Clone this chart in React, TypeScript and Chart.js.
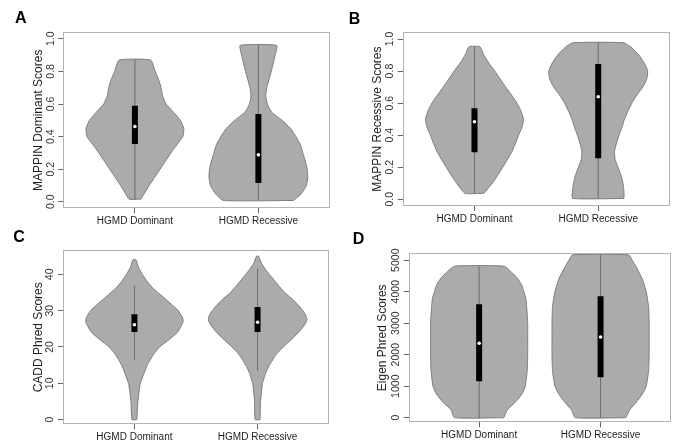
import React, { useEffect, useRef } from 'react';
import { Chart, registerables } from 'chart.js';

Chart.register(...registerables);

const FONT = '"Liberation Sans", Arial, Helvetica, sans-serif';

const categories = ['HGMD Dominant', 'HGMD Recessive'];
const categoryPositions = [1, 2];

// ---------- Panel A : MAPPIN Dominant Scores ----------
const aTicks = [0, 0.2, 0.4, 0.6, 0.8, 1.0];
const aDomLevels = [0.016, 0.05, 0.1, 0.15, 0.2, 0.25, 0.3, 0.35, 0.4, 0.45, 0.5, 0.55, 0.6, 0.65, 0.7, 0.75, 0.8, 0.87];
const aDomDensity = [0.12, 0.19, 0.29, 0.4, 0.51, 0.62, 0.73, 0.85, 0.97, 0.99, 0.92, 0.78, 0.63, 0.56, 0.53, 0.48, 0.41, 0.32];
const aDomBox = [0.355, 0.462, 0.59];
const aDomWhisker = [0.016, 0.87];
const aRecLevels = [0.008, 0.05, 0.1, 0.15, 0.2, 0.25, 0.3, 0.35, 0.4, 0.45, 0.5, 0.55, 0.6, 0.65, 0.7, 0.8, 0.9, 0.96];
const aRecDensity = [0.71, 0.87, 0.97, 1.0, 0.99, 0.95, 0.9, 0.85, 0.76, 0.65, 0.48, 0.27, 0.18, 0.15, 0.17, 0.26, 0.34, 0.37];
const aRecBox = [0.115, 0.288, 0.538];
const aRecWhisker = [0.008, 0.96];

// ---------- Panel B : MAPPIN Recessive Scores ----------
const bTicks = [0, 0.2, 0.4, 0.6, 0.8, 1.0];
const bDomLevels = [0.037, 0.1, 0.15, 0.2, 0.25, 0.3, 0.35, 0.4, 0.45, 0.5, 0.55, 0.6, 0.65, 0.7, 0.75, 0.8, 0.85, 0.9, 0.952];
const bDomDensity = [0.19, 0.36, 0.47, 0.57, 0.67, 0.76, 0.83, 0.89, 0.96, 0.99, 0.94, 0.86, 0.75, 0.63, 0.52, 0.41, 0.29, 0.19, 0.11];
const bDomBox = [0.293, 0.484, 0.568];
const bDomWhisker = [0.037, 0.952];
const bRecLevels = [0.005, 0.05, 0.1, 0.15, 0.2, 0.25, 0.3, 0.35, 0.4, 0.45, 0.5, 0.55, 0.6, 0.65, 0.7, 0.75, 0.8, 0.85, 0.9, 0.95, 0.977];
const bRecDensity = [0.52, 0.52, 0.5, 0.46, 0.4, 0.34, 0.33, 0.37, 0.42, 0.48, 0.53, 0.6, 0.68, 0.78, 0.9, 0.98, 1.0, 0.93, 0.82, 0.66, 0.51];
const bRecBox = [0.256, 0.64, 0.844];
const bRecWhisker = [0.005, 0.977];

// ---------- Panel C : CADD Phred Scores ----------
const cTicks = [0, 10, 20, 30, 40];
const cDomLevels = [0, 5, 10, 15, 18, 20, 22, 24, 26, 27, 28, 30, 32, 34, 36, 38, 40, 42, 44];
const cDomDensity = [0.05, 0.07, 0.12, 0.26, 0.39, 0.51, 0.7, 0.87, 0.96, 0.99, 0.98, 0.89, 0.73, 0.56, 0.39, 0.26, 0.16, 0.08, 0.03];
const cDomBox = [24.1, 26.1, 29.0];
const cDomWhisker = [16.3, 36.8];
const cRecLevels = [0, 5, 10, 13, 15, 18, 20, 22, 24, 26, 27.5, 29, 31, 33, 35, 37, 39, 41, 43, 45];
const cRecDensity = [0.05, 0.06, 0.1, 0.17, 0.24, 0.38, 0.52, 0.68, 0.83, 0.95, 1.0, 0.97, 0.86, 0.72, 0.55, 0.42, 0.3, 0.18, 0.08, 0.02];
const cRecBox = [24.1, 26.8, 31.0];
const cRecWhisker = [13.4, 41.6];

// ---------- Panel D : Eigen Phred Scores ----------
const dTicks = [0, 1000, 2000, 3000, 4000, 5000];
const dDomLevels = [0, 250, 500, 750, 1000, 1500, 2000, 2500, 3000, 3500, 3800, 4000, 4200, 4400, 4600, 4810];
const dDomDensity = [0.51, 0.58, 0.75, 0.88, 0.95, 0.99, 1.0, 1.0, 1.0, 0.98, 0.96, 0.92, 0.88, 0.8, 0.68, 0.51];
const dDomBox = [1155, 2362, 3602];
const dDomWhisker = [0, 4810];
const dRecLevels = [0, 250, 500, 750, 1000, 1500, 2000, 2500, 3000, 3500, 4000, 4400, 4800, 5000, 5170];
const dRecDensity = [0.52, 0.6, 0.74, 0.86, 0.94, 0.99, 1.0, 1.0, 1.0, 0.99, 0.94, 0.86, 0.73, 0.65, 0.58];
const dRecBox = [1282, 2564, 3856];
const dRecWhisker = [0, 5170];

type Group = { levels: number[]; density: number[]; box: number[]; whisker: number[] };
type Panel = {
  letter: string;
  letterPos: [number, number];
  yTitle: string;
  yTicks: number[];
  yMin: number;
  yMax: number;
  decimals: number;
  groups: Group[];
  canvas: { left: number; top: number; w: number; h: number };
  area: { left: number; top: number; right: number; bottom: number };
  titleCenter: number;
};

const panels: Panel[] = [
  {
    letter: 'A', letterPos: [15, 11.7], yTitle: 'MAPPIN Dominant Scores', yTicks: aTicks, yMin: -0.04, yMax: 1.04, decimals: 1,
    groups: [
      { levels: aDomLevels, density: aDomDensity, box: aDomBox, whisker: aDomWhisker },
      { levels: aRecLevels, density: aRecDensity, box: aRecBox, whisker: aRecWhisker },
    ],
    canvas: { left: 0, top: 0, w: 338, h: 240 },
    area: { left: 63.3, top: 32.3, right: 330, bottom: 208.3 },
    titleCenter: 39,
  },
  {
    letter: 'B', letterPos: [348.7, 13], yTitle: 'MAPPIN Recessive Scores', yTicks: bTicks, yMin: -0.042, yMax: 1.042, decimals: 1,
    groups: [
      { levels: bDomLevels, density: bDomDensity, box: bDomBox, whisker: bDomWhisker },
      { levels: bRecLevels, density: bRecDensity, box: bRecBox, whisker: bRecWhisker },
    ],
    canvas: { left: 336, top: 0, w: 340, h: 240 },
    area: { left: 66.7, top: 32.3, right: 334, bottom: 206 },
    titleCenter: 41.3,
  },
  {
    letter: 'C', letterPos: [13.3, 231], yTitle: 'CADD Phred Scores', yTicks: cTicks, yMin: -1.27, yMax: 46.6, decimals: 0,
    groups: [
      { levels: cDomLevels, density: cDomDensity, box: cDomBox, whisker: cDomWhisker },
      { levels: cRecLevels, density: cRecDensity, box: cRecBox, whisker: cRecWhisker },
    ],
    canvas: { left: 0, top: 221, w: 338, h: 221 },
    area: { left: 63, top: 29.3, right: 329, bottom: 203.3 },
    titleCenter: 38.3,
  },
  {
    letter: 'D', letterPos: [352.7, 233.3], yTitle: 'Eigen Phred Scores', yTicks: dTicks, yMin: -146, yMax: 5219, decimals: 0,
    groups: [
      { levels: dDomLevels, density: dDomDensity, box: dDomBox, whisker: dDomWhisker },
      { levels: dRecLevels, density: dRecDensity, box: dRecBox, whisker: dRecWhisker },
    ],
    canvas: { left: 336, top: 221, w: 340, h: 221 },
    area: { left: 72.7, top: 32.3, right: 335, bottom: 201.3 },
    titleCenter: 47,
  },
];

const VIOLIN_HALF = 0.4;
const TICK_FONT_SIZE = 10.5;
const TITLE_FONT_SIZE = 12;
const LABEL_FONT_SIZE = 10;

function outline(center: number, levels: number[], density: number[]) {
  const right = levels.map((y, i) => ({ x: center + VIOLIN_HALF * density[i], y }));
  const left = levels.map((y, i) => ({ x: center - VIOLIN_HALF * density[i], y })).reverse();
  return [...right, ...left, right[0]];
}

const framePlugin = {
  id: 'frame',
  afterDraw(chart: any) {
    const { ctx, chartArea: a } = chart;
    ctx.save();
    ctx.strokeStyle = '#b4b4b4';
    ctx.lineWidth = 1;
    const l = Math.round(a.left) + 0.5;
    const t = Math.round(a.top) + 0.5;
    const r = Math.round(a.right) - 0.5;
    const b = Math.round(a.bottom) - 0.5;
    ctx.strokeRect(l, t, r - l, b - t);
    ctx.restore();
  },
};

function measureWidest(labels: string[]) {
  const c = document.createElement('canvas').getContext('2d')!;
  c.font = `${TICK_FONT_SIZE}px ${FONT}`;
  return Math.max(...labels.map((s) => c.measureText(s).width));
}

function ViolinPanel({ p }: { p: Panel }) {
  const ref = useRef<HTMLCanvasElement | null>(null);
  useEffect(() => {
    if (!ref.current) return;
    const fmt = (v: number) => v.toFixed(p.decimals);
    const widest = measureWidest(p.yTicks.map(fmt));
    const tickLen = 5;
    const labelCenterGap = 12.5;
    const yTickPadding = labelCenterGap - tickLen - widest / 2;
    const titleLine = TITLE_FONT_SIZE * 1.2;

    const datasets: any[] = [];
    p.groups.forEach((g, gi) => {
      const c = categoryPositions[gi];
      datasets.push({
        label: categories[gi] + ' violin',
        data: outline(c, g.levels, g.density),
        showLine: true,
        fill: 'shape',
        backgroundColor: '#ababab',
        borderColor: '#7c7c7c',
        borderWidth: 1,
        pointRadius: 0,
        tension: 0.15,
        order: 4,
      });
      datasets.push({
        label: categories[gi] + ' whisker',
        data: [{ x: c, y: g.whisker[0] }, { x: c, y: g.whisker[1] }],
        showLine: true,
        borderColor: '#6a6a6a',
        borderWidth: 1,
        pointRadius: 0,
        order: 3,
      });
      datasets.push({
        label: categories[gi] + ' box',
        data: [{ x: c, y: g.box[0] }, { x: c, y: g.box[2] }],
        showLine: true,
        borderColor: '#000000',
        borderWidth: 6,
        borderCapStyle: 'butt',
        pointRadius: 0,
        order: 2,
      });
      datasets.push({
        label: categories[gi] + ' median',
        data: [{ x: c, y: g.box[1] }],
        showLine: false,
        pointRadius: 1.8,
        pointBackgroundColor: '#ffffff',
        pointBorderWidth: 0,
        order: 1,
      });
    });

    const chart = new Chart(ref.current, {
      type: 'scatter',
      data: { datasets },
      plugins: [framePlugin],
      options: {
        animation: false,
        responsive: false,
        devicePixelRatio: 1,
        events: [],
        layout: {
          padding: { left: 0, top: p.area.top, right: p.canvas.w - p.area.right, bottom: 0 },
        },
        plugins: { legend: { display: false }, tooltip: { enabled: false }, title: { display: false } },
        scales: {
          x: {
            type: 'linear',
            min: 0.42,
            max: 2.58,
            afterBuildTicks: (s: any) => {
              s.ticks = categoryPositions.map((v) => ({ value: v }));
            },
            afterFit: (s: any) => {
              s.height = p.canvas.h - p.area.bottom;
            },
            ticks: {
              callback: (_v: any, i: number) => categories[i],
              font: { family: FONT, size: LABEL_FONT_SIZE },
              color: '#1e1e1e',
              padding: 2,
              maxRotation: 0,
              minRotation: 0,
              autoSkip: false,
            },
            grid: { display: true, drawOnChartArea: false, drawTicks: true, tickLength: tickLen, color: '#666666' },
            border: { display: false },
          },
          y: {
            type: 'linear',
            min: p.yMin,
            max: p.yMax,
            afterBuildTicks: (s: any) => {
              s.ticks = p.yTicks.map((v) => ({ value: v }));
            },
            afterFit: (s: any) => {
              s.width = p.area.left;
            },
            ticks: {
              callback: (v: any) => fmt(Number(v)),
              font: { family: FONT, size: TICK_FONT_SIZE },
              color: '#333333',
              minRotation: 90,
              maxRotation: 90,
              crossAlign: 'center',
              padding: yTickPadding,
              autoSkip: false,
            },
            title: {
              display: true,
              text: p.yTitle,
              color: '#1e1e1e',
              font: { family: FONT, size: TITLE_FONT_SIZE },
              padding: { top: p.titleCenter - titleLine / 2, bottom: 0 },
            },
            grid: { display: true, drawOnChartArea: false, drawTicks: true, tickLength: tickLen, color: '#666666' },
            border: { display: false },
          },
        },
      } as any,
    });
    return () => chart.destroy();
  }, [p]);

  return (
    <canvas
      ref={ref}
      width={p.canvas.w}
      height={p.canvas.h}
      style={{
        position: 'absolute',
        left: p.canvas.left,
        top: p.canvas.top,
        width: p.canvas.w,
        height: p.canvas.h,
      }}
    />
  );
}

export default function App() {
  return (
    <div
      style={{
        position: 'absolute',
        left: 0,
        top: 0,
        width: 676,
        height: 442,
        background: '#ffffff',
        overflow: 'hidden',
      }}
    >
      {panels.map((p) => (
        <ViolinPanel key={p.letter} p={p} />
      ))}
      {panels.map((p) => (
        <div
          key={'L' + p.letter}
          style={{
            position: 'absolute',
            left: p.letterPos[0],
            top: p.letterPos[1] - 2.1,
            fontFamily: FONT,
            fontWeight: 'bold',
            fontSize: 16,
            lineHeight: '16px',
            color: '#000',
          }}
        >
          {p.letter}
        </div>
      ))}
    </div>
  );
}
